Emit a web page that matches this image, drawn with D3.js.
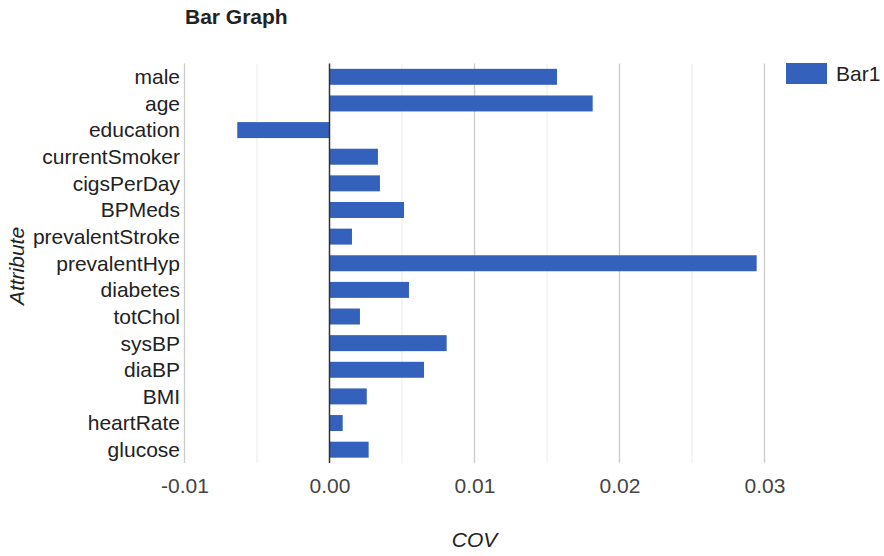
<!DOCTYPE html>
<html>
<head>
<meta charset="utf-8">
<script src="https://cdn.jsdelivr.net/npm/d3@7"></script>
<style>
  html, body { margin: 0; padding: 0; background: #fff; }
  svg { display: block; font-family: "Liberation Sans", Arial, sans-serif; }
</style>
</head>
<body>
<svg id="chart" width="884" height="556"></svg>
<script>
const categories = ["male", "age", "education", "currentSmoker", "cigsPerDay", "BPMeds",
  "prevalentStroke", "prevalentHyp", "diabetes", "totChol", "sysBP", "diaBP", "BMI",
  "heartRate", "glucose"];
const bar1 = [0.01569, 0.01815, -0.00636, 0.00334, 0.00348, 0.00514, 0.00155, 0.02946,
  0.00548, 0.0021, 0.00808, 0.00652, 0.00257, 0.00091, 0.0027];
const majorTicks = [-0.01, 0.00, 0.01, 0.02, 0.03];
const minorTicks = [-0.005, 0.005, 0.015, 0.025];
const seriesName = "Bar1";

const svg = d3.select("#chart");
const pLeft = 184.5, pRight = 764.5, pTop = 63.5, pBottom = 463;
const fs = 21;

const x = d3.scaleLinear().domain([-0.01, 0.03]).range([pLeft, pRight]);
const y = d3.scaleBand().domain(categories).range([pTop, pBottom]).paddingInner(0.4).paddingOuter(0.2);

// title
svg.append("text").attr("x", 185).attr("y", 24)
  .attr("font-size", fs).attr("font-weight", "bold").attr("fill", "#222")
  .text("Bar Graph");

// minor gridlines
svg.append("g").selectAll("line").data(minorTicks).join("line")
  .attr("x1", d => x(d)).attr("x2", d => x(d))
  .attr("y1", pTop).attr("y2", pBottom)
  .attr("stroke", "#ebebeb").attr("stroke-width", 1);

// major gridlines
svg.append("g").selectAll("line").data(majorTicks.filter(d => d !== 0)).join("line")
  .attr("x1", d => x(d)).attr("x2", d => x(d))
  .attr("y1", pTop).attr("y2", pBottom)
  .attr("stroke", "#cccccc").attr("stroke-width", 1.3);

// bars
svg.append("g").selectAll("rect").data(categories).join("rect")
  .attr("x", (d, i) => Math.min(x(0), x(bar1[i])))
  .attr("width", (d, i) => Math.abs(x(bar1[i]) - x(0)))
  .attr("y", d => y(d))
  .attr("height", y.bandwidth())
  .attr("fill", "#3461bb");

// zero baseline
svg.append("line").attr("x1", x(0)).attr("x2", x(0))
  .attr("y1", pTop).attr("y2", pBottom)
  .attr("stroke", "#333").attr("stroke-width", 1.5);

// x axis tick labels
const fmt = d3.format(".2f");
const xAxis = d3.axisBottom(x).tickValues(majorTicks)
  .tickFormat(d => fmt(d).replace("\u2212", "-")).tickSize(0).tickPadding(0);
const gx = svg.append("g").attr("transform", `translate(0, ${pBottom + 30})`).call(xAxis);
gx.select(".domain").remove();
gx.selectAll("text").attr("font-size", fs).attr("fill", "#444")
  .attr("font-family", "Liberation Sans, Arial, sans-serif").attr("dy", 0).attr("y", 0);

// y axis labels
const yAxis = d3.axisLeft(y).tickSize(0).tickPadding(0);
const gy = svg.append("g").attr("transform", `translate(180, 0)`).call(yAxis);
gy.select(".domain").remove();
gy.selectAll("text").attr("font-size", fs).attr("fill", "#222")
  .attr("font-family", "Liberation Sans, Arial, sans-serif").attr("dy", "0.35em");

// axis titles
svg.append("text").attr("x", (pLeft + pRight) / 2).attr("y", 547)
  .attr("text-anchor", "middle").attr("font-size", fs).attr("font-style", "italic")
  .attr("fill", "#222").text("COV");
svg.append("text").attr("transform", "translate(24, 266) rotate(-90)")
  .attr("text-anchor", "middle").attr("font-size", fs).attr("font-style", "italic")
  .attr("fill", "#222").text("Attribute");

// legend
const lg = svg.append("g");
lg.append("rect").attr("x", 786).attr("y", 63).attr("width", 41).attr("height", 21).attr("fill", "#3461bb");
lg.append("text").attr("x", 836).attr("y", 81).attr("font-size", fs).attr("fill", "#222").text(seriesName);
</script>
</body>
</html>
